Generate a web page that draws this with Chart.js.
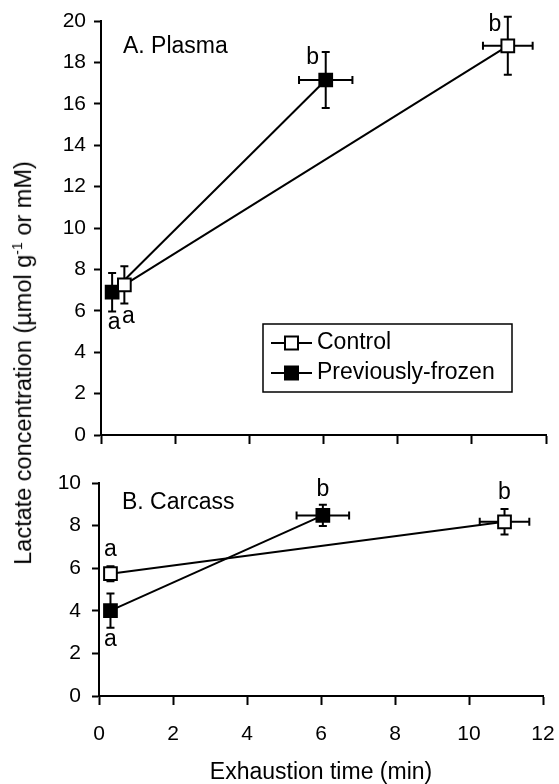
<!DOCTYPE html>
<html>
<head>
<meta charset="utf-8">
<script src="https://cdn.jsdelivr.net/npm/chart.js@4"></script>
<style>
  body { margin: 0; background: #fff; }
  #wrap { position: relative; width: 559px; height: 784px; }
  #plasma { position: absolute; left: 0; top: 0; }
  #carcass { position: absolute; left: 0; top: 455px; }
  #ytitle {
    position: absolute; left: 23px; top: 363px;
    transform: translate(-50%, -50%) rotate(-90deg);
    font: 23.5px "Liberation Sans", Arial, sans-serif;
    white-space: nowrap; color: #000;
  }
  #ytitle sup { font-size: 0.6em; }
</style>
</head>
<body>
<div id="wrap">
  <canvas id="plasma" width="559" height="455"></canvas>
  <canvas id="carcass" width="559" height="329"></canvas>
  <div id="ytitle">Lactate concentration (µmol g<sup>-1</sup> or mM)</div>
</div>
<script>
// tick values
var timeTicks = [0, 2, 4, 6, 8, 10, 12];
var plasmaTicks = [0, 2, 4, 6, 8, 10, 12, 14, 16, 18, 20];
var carcassTicks = [0, 2, 4, 6, 8, 10];

// A. Plasma
var plasmaControlTime = [0.63, 10.97];
var plasmaControlTimeSE = [0, 0.67];
var plasmaControlLactate = [7.25, 18.8];
var plasmaControlLactateSE = [0.9, 1.4];
var plasmaControlSig = ["a", "b"];

var plasmaFrozenTime = [0.3, 6.06];
var plasmaFrozenTimeSE = [0, 0.72];
var plasmaFrozenLactate = [6.9, 17.15];
var plasmaFrozenLactateSE = [0.93, 1.35];
var plasmaFrozenSig = ["a", "b"];

// B. Carcass
var carcassControlTime = [0.31, 10.96];
var carcassControlTimeSE = [0, 0.67];
var carcassControlLactate = [5.74, 8.18];
var carcassControlLactateSE = [0.35, 0.6];
var carcassControlSig = ["a", "b"];

var carcassFrozenTime = [0.31, 6.05];
var carcassFrozenTimeSE = [0, 0.71];
var carcassFrozenLactate = [4.01, 8.48];
var carcassFrozenLactateSE = [0.8, 0.5];
var carcassFrozenSig = ["a", "b"];

var FONT = '"Liberation Sans", Arial, sans-serif';
Chart.defaults.color = "#000";
Chart.defaults.font.family = FONT;
Chart.defaults.font.size = 21;

function points(xs, ys) {
  return xs.map(function(x, i) { return { x: x, y: ys[i] }; });
}

function series(label, fill, xs, ys, xErr, yErr, sig) {
  return {
    label: label,
    data: points(xs, ys),
    xErr: xErr,
    yErr: yErr,
    sig: sig,
    borderColor: "#000",
    borderWidth: 2,
    backgroundColor: fill,
    pointStyle: "rect",
    pointRadius: 9,
    pointBorderWidth: 2,
    pointBackgroundColor: fill,
    pointBorderColor: "#000",
    showLine: true,
    fill: false,
    tension: 0,
    clip: false
  };
}

// error bars drawn under the markers
var errorBars = {
  id: "errorBars",
  beforeDatasetsDraw: function(chart) {
    var ctx = chart.ctx, xs = chart.scales.x, ys = chart.scales.y, cap = 4;
    ctx.save();
    ctx.strokeStyle = "#000";
    ctx.lineWidth = 2;
    chart.data.datasets.forEach(function(ds) {
      ds.data.forEach(function(p, i) {
        var px = xs.getPixelForValue(p.x), py = ys.getPixelForValue(p.y);
        ctx.beginPath();
        if (ds.yErr[i]) {
          var t = ys.getPixelForValue(p.y + ds.yErr[i]);
          var b = ys.getPixelForValue(p.y - ds.yErr[i]);
          ctx.moveTo(px, t); ctx.lineTo(px, b);
          ctx.moveTo(px - cap, t); ctx.lineTo(px + cap, t);
          ctx.moveTo(px - cap, b); ctx.lineTo(px + cap, b);
        }
        if (ds.xErr[i]) {
          var l = xs.getPixelForValue(p.x - ds.xErr[i]);
          var r = xs.getPixelForValue(p.x + ds.xErr[i]);
          ctx.moveTo(l, py); ctx.lineTo(r, py);
          ctx.moveTo(l, py - cap); ctx.lineTo(l, py + cap);
          ctx.moveTo(r, py - cap); ctx.lineTo(r, py + cap);
        }
        ctx.stroke();
      });
    });
    ctx.restore();
  }
};

// significance letters, panel title and boxed legend
var extras = {
  id: "extras",
  afterDatasetsDraw: function(chart, args, opts) {
    var ctx = chart.ctx, xs = chart.scales.x, ys = chart.scales.y;
    ctx.save();
    ctx.fillStyle = "#000";
    ctx.font = "23px " + FONT;
    ctx.textAlign = "center";
    ctx.textBaseline = "middle";
    chart.data.datasets.forEach(function(ds, d) {
      ds.data.forEach(function(p, i) {
        var off = opts.sigOffsets[d][i];
        ctx.fillText(ds.sig[i], xs.getPixelForValue(p.x) + off[0], ys.getPixelForValue(p.y) + off[1]);
      });
    });

    ctx.textAlign = "left";
    ctx.fillText(opts.panel, opts.panelPos[0], opts.panelPos[1]);

    if (opts.legendBox) {
      var lb = opts.legendBox;
      ctx.strokeStyle = "#000";
      ctx.lineWidth = 1.5;
      ctx.strokeRect(lb.x, lb.y, lb.w, lb.h);
      chart.data.datasets.forEach(function(ds, d) {
        var cy = lb.rows[d];
        ctx.lineWidth = 2;
        ctx.beginPath();
        ctx.moveTo(lb.x + 8, cy); ctx.lineTo(lb.x + 49, cy);
        ctx.stroke();
        ctx.fillStyle = ds.pointBackgroundColor;
        ctx.fillRect(lb.x + 22, cy - 6.5, 13, 13);
        ctx.strokeRect(lb.x + 22, cy - 6.5, 13, 13);
        ctx.fillStyle = "#000";
        ctx.fillText(ds.label, lb.x + 54, cy);
      });
    }
    ctx.restore();
  }
};

function axisStyle(tickLen) {
  return {
    grid: { drawOnChartArea: false, color: "#000", tickColor: "#000", tickLength: tickLen, tickWidth: 2 },
    border: { display: true, color: "#000", width: 2 }
  };
}

function setTicks(values) {
  return function(scale) {
    scale.ticks = values.map(function(v) { return { value: v }; });
  };
}

function makeChart(id, cfg) {
  var xAxis = axisStyle(9);
  xAxis.type = "linear";
  xAxis.min = 0;
  xAxis.max = 12;
  xAxis.afterBuildTicks = setTicks(timeTicks);
  xAxis.ticks = { display: cfg.xLabels, padding: 17, maxRotation: 0 };
  xAxis.title = {
    display: cfg.xLabels,
    text: "Exhaustion time (min)",
    font: { size: 23, lineHeight: 1 },
    padding: { top: 0, bottom: 0 }
  };
  // fixed axis box, no extra room for edge labels
  xAxis.afterFit = function(s) {
    s.height = cfg.xHeight;
    s.paddingLeft = 0;
    s.paddingRight = 0;
  };

  var yAxis = axisStyle(7);
  yAxis.min = 0;
  yAxis.max = cfg.yMax;
  yAxis.afterBuildTicks = setTicks(cfg.yTicks);
  yAxis.ticks = { padding: cfg.yPad };
  yAxis.afterFit = function(s) {
    s.width = cfg.yWidth;
    s.paddingTop = 0;
    s.paddingBottom = 0;
  };

  return new Chart(document.getElementById(id), {
    type: "scatter",
    data: { datasets: cfg.datasets },
    options: {
      responsive: false,
      animation: false,
      layout: { padding: { left: 0, right: cfg.padRight, top: cfg.padTop, bottom: 0 } },
      scales: { x: xAxis, y: yAxis },
      plugins: {
        legend: { display: false },
        tooltip: { enabled: false },
        extras: {
          sigOffsets: cfg.sigOffsets,
          panel: cfg.panel,
          panelPos: cfg.panelPos,
          legendBox: cfg.legendBox
        }
      }
    },
    plugins: [errorBars, extras]
  });
}

makeChart("plasma", {
  datasets: [
    series("Control", "#fff", plasmaControlTime, plasmaControlLactate, plasmaControlTimeSE, plasmaControlLactateSE, plasmaControlSig),
    series("Previously-frozen", "#000", plasmaFrozenTime, plasmaFrozenLactate, plasmaFrozenTimeSE, plasmaFrozenLactateSE, plasmaFrozenSig)
  ],
  yMax: 20,
  yTicks: plasmaTicks,
  yWidth: 101,
  yPad: 8,
  padRight: 13,
  padTop: 21,
  xHeight: 20,
  xLabels: false,
  sigOffsets: [[[4, 32], [-13, -21]], [[2, 30], [-13, -22]]],
  panel: "A. Plasma",
  panelPos: [123, 47],
  legendBox: { x: 263, y: 324, w: 249, h: 68, rows: [343, 373] }
});

makeChart("carcass", {
  datasets: [
    series("Control", "#fff", carcassControlTime, carcassControlLactate, carcassControlTimeSE, carcassControlLactateSE, carcassControlSig),
    series("Previously-frozen", "#000", carcassFrozenTime, carcassFrozenLactate, carcassFrozenTimeSE, carcassFrozenLactateSE, carcassFrozenSig)
  ],
  yMax: 10,
  yTicks: carcassTicks,
  yWidth: 99,
  yPad: 11,
  padRight: 16,
  padTop: 28,
  xHeight: 88,
  xLabels: true,
  sigOffsets: [[[0, -24], [0, -29]], [[0, 29], [0, -26]]],
  panel: "B. Carcass",
  panelPos: [122, 48],
  legendBox: null
});
</script>
</body>
</html>
